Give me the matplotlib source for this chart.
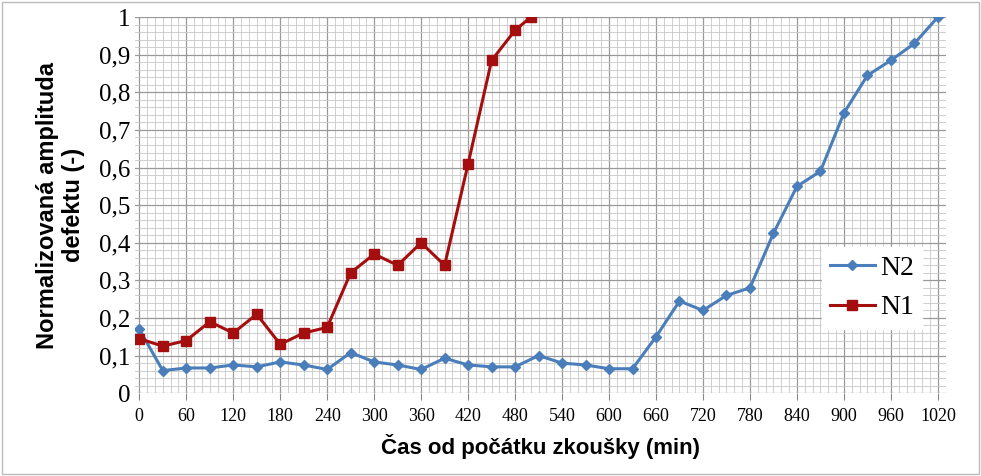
import numpy as np
import matplotlib
matplotlib.use('Agg')
import matplotlib.pyplot as plt
from matplotlib.ticker import MultipleLocator, FuncFormatter

# data
t_n2 = list(range(0, 1021, 30))
n2 = [0.17, 0.06, 0.067, 0.067, 0.075, 0.07, 0.083, 0.075, 0.063, 0.108,
      0.083, 0.075, 0.063, 0.093, 0.075, 0.07, 0.07, 0.10, 0.08, 0.075,
      0.065, 0.065, 0.15, 0.245, 0.22, 0.26, 0.28, 0.425, 0.55, 0.59,
      0.745, 0.845, 0.885, 0.93, 1.0]
t_n1 = list(range(0, 481, 30)) + [500]
n1 = [0.145, 0.125, 0.14, 0.19, 0.16, 0.21, 0.13, 0.16, 0.175, 0.32,
      0.37, 0.34, 0.40, 0.34, 0.61, 0.885, 0.965, 1.0]

fig = plt.figure(figsize=(9.81, 4.76), dpi=100)
ax = fig.add_axes([0.138, 0.174, 0.826, 0.79])

ax.plot(t_n2, n2, color='#4a7ebb', lw=2.2, marker='D', ms=5, label='N2', zorder=3)
ax.plot(t_n1, n1, color='#a50e0e', lw=2.2, marker='s', ms=7, label='N1', zorder=3)

ax.set_xlim(-5, 1030)
ax.set_ylim(0, 1)
ax.xaxis.set_major_locator(MultipleLocator(60))
ax.xaxis.set_minor_locator(MultipleLocator(10))
ax.yaxis.set_major_locator(MultipleLocator(0.1))
ax.yaxis.set_minor_locator(MultipleLocator(0.02))
ax.grid(which='major', color='#999999', lw=0.9)
ax.grid(which='minor', color='#c8c8c8', lw=0.6)
ax.yaxis.set_major_formatter(FuncFormatter(lambda v, p: ('%g' % round(v, 1)).replace('.', ',')))
for s in ax.spines.values():
    s.set_visible(False)
ax.tick_params(which='both', length=0)
ax.tick_params(axis='x', which='major', length=5, color='#888888')
ax.tick_params(axis='x', labelsize=13, pad=6, labelfontfamily='Liberation Serif')
ax.tick_params(axis='y', labelsize=18, labelfontfamily='Liberation Serif')

ax.set_xlabel('Čas od počátku zkoušky (min)', fontsize=16, fontweight='bold',
              fontfamily='Liberation Sans', labelpad=6)
ax.set_ylabel('Normalizovaná amplituda\ndefektu (-)', fontsize=17, fontweight='bold',
              fontfamily='Liberation Sans', labelpad=10)

leg = ax.legend(loc='center left', bbox_to_anchor=(0.83, 0.28), frameon=True,
                prop={'family': 'Liberation Serif', 'size': 20}, handlelength=1.6,
                handletextpad=0.2, borderpad=0.3, fancybox=False, edgecolor='white')
leg.get_frame().set_facecolor('white')
leg.get_frame().set_alpha(1)

fig.patches.append(plt.Rectangle((0.002, 0.004), 0.996, 0.992, transform=fig.transFigure,
                                 fill=False, edgecolor='#bbbbbb', lw=1))
fig.savefig('out.png', dpi=100)
